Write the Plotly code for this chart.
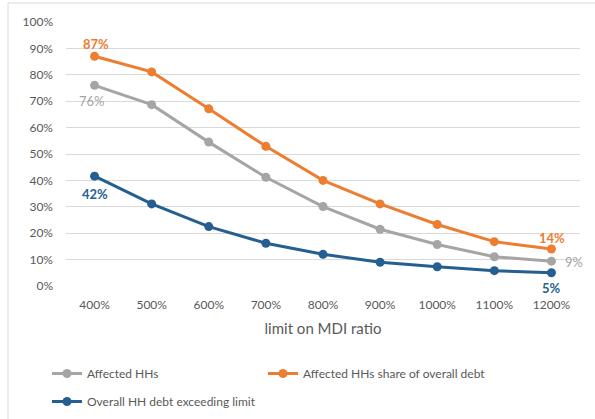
import plotly.graph_objects as go

# Limit on the MDI ratio (category axis)
limits = ["400%", "500%", "600%", "700%", "800%", "900%", "1000%", "1100%", "1200%"]

# Series values (shares)
affected_hhs = [0.76, 0.687, 0.545, 0.412, 0.301, 0.215, 0.157, 0.111, 0.094]
affected_debt_share = [0.87, 0.811, 0.671, 0.529, 0.400, 0.311, 0.233, 0.168, 0.140]
debt_exceeding = [0.416, 0.311, 0.225, 0.162, 0.120, 0.090, 0.073, 0.058, 0.050]

y_ticks = [i / 10 for i in range(11)]
y_ticktext = [f"{i * 10}%" for i in range(11)]

GRAY = "#A5A5A5"
ORANGE = "#ED7D31"
BLUE = "#255E91"
TEXT = "#595959"
FONT = "Lato"

W, H = 595, 419
L, R, T, B = 66, 15, 22, 133
pw, ph = W - L - R, H - T - B


def px_x(px):
    return (px - L) / pw


def px_y(py):
    return (H - B - py) / ph


first, last = 0, len(limits) - 1

series = [
    ("Affected HHs", affected_hhs, GRAY, "legend"),
    ("Affected HHs share of overall debt", affected_debt_share, ORANGE, "legend3"),
    ("Overall HH debt exceeding limit", debt_exceeding, BLUE, "legend2"),
]

fig = go.Figure()
for name, values, color, leg in series:
    fig.add_trace(go.Scatter(
        x=limits, y=values, name=name, mode="lines+markers",
        line=dict(color=color, width=3), marker=dict(color=color, size=9),
        cliponaxis=False, legend=leg,
    ))

# Value labels at the first and last points: (values, index, colour, bold, dx, dy)
label_specs = [
    (affected_debt_share, first, ORANGE, True, 1, 12),
    (affected_hhs, first, GRAY, False, -3, -16),
    (debt_exceeding, first, BLUE, True, 0, -18),
    (affected_debt_share, last, ORANGE, True, 1, 11),
    (affected_hhs, last, GRAY, False, 23, -1),
    (debt_exceeding, last, BLUE, True, 0, -15),
]
annotations = []
for values, idx, color, bold, dx, dy in label_specs:
    s = f"{round(values[idx] * 100):d}%"
    annotations.append(dict(
        x=limits[idx], y=values[idx], xref="x", yref="y",
        text=f"<b>{s}</b>" if bold else s, showarrow=False,
        xanchor="center", yanchor="middle", xshift=dx, yshift=dy,
        font=dict(color=color, size=13, family=FONT),
    ))

legend_common = dict(
    orientation="h", xanchor="left", yanchor="top",
    font=dict(size=12, color=TEXT, family=FONT),
    itemwidth=30, bgcolor="rgba(0,0,0,0)",
)

fig.update_layout(
    width=W, height=H,
    margin=dict(l=L, r=R, t=T, b=B, autoexpand=False),
    paper_bgcolor="white", plot_bgcolor="white",
    font=dict(family=FONT, size=12, color=TEXT),
    showlegend=True,
    legend=dict(x=px_x(47), y=px_y(359), **legend_common),
    legend3=dict(x=px_x(263), y=px_y(359), **legend_common),
    legend2=dict(x=px_x(47), y=px_y(387), **legend_common),
    xaxis=dict(
        type="category", showgrid=False, zeroline=False, showline=False,
        ticks="", tickfont=dict(size=12, color=TEXT), ticklabelstandoff=10,
        range=[-0.5, len(limits) - 0.5], automargin=False,
        title=dict(text="limit on MDI ratio", font=dict(size=15, color=TEXT), standoff=12),
    ),
    yaxis=dict(
        range=[0, 1], tickvals=y_ticks, ticktext=y_ticktext,
        showgrid=True, gridcolor="#D9D9D9", gridwidth=1,
        zeroline=False, showline=False, ticks="", automargin=False,
        tickfont=dict(size=12, color=TEXT), ticklabelstandoff=12,
    ),
    annotations=annotations,
    shapes=[
        dict(type="line", xref="paper", yref="paper",
             x0=px_x(8), x1=px_x(620), y0=px_y(3), y1=px_y(3),
             line=dict(color="#D9D9D9", width=1)),
        dict(type="line", xref="paper", yref="paper",
             x0=px_x(8), x1=px_x(8), y0=px_y(3), y1=px_y(440),
             line=dict(color="#D9D9D9", width=1)),
    ],
)

fig.write_html("out.html")
